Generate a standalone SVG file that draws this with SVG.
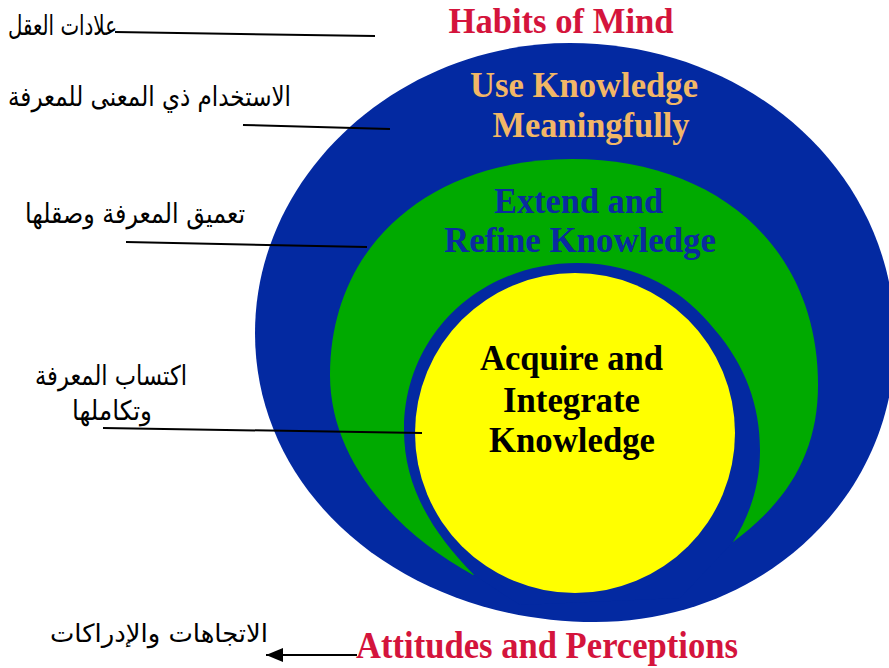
<svg xmlns="http://www.w3.org/2000/svg" width="889" height="668" viewBox="0 0 889 668">
<style>
.en{font-family:"Liberation Serif","Times New Roman",serif;font-weight:bold;font-size:35px;text-anchor:middle}
.ar{font-family:"DejaVu Sans","Noto Sans",sans-serif;font-size:27px;fill:#000;text-anchor:end}
.ln{stroke:#000;stroke-width:2;fill:none}
.blue{fill:#0329A1}
</style>
<defs>
<marker id="ah" viewBox="-17 -7 17 14" refX="0" refY="0" markerWidth="17" markerHeight="14" markerUnits="userSpaceOnUse" orient="auto">
<polygon points="0,0 -17,-7 -17,7" fill="#000"/>
</marker>
<clipPath id="outerClip"><path d="M 255,333 C 255,173 400,43 570,43 C 750,43 895,173 895,340 C 895,500 760,622 595,622 C 410,622 255,500 255,333 Z"/></clipPath>
</defs>
<rect width="889" height="668" fill="#fff"/>
<g id="habits-of-mind">
<path class="blue" d="M 255,333 C 255,173 400,43 570,43 C 750,43 895,173 895,340 C 895,500 760,622 595,622 C 410,622 255,500 255,333 Z"/>
<text class="en" x="561" y="33" fill="#D4143C" textLength="225" lengthAdjust="spacingAndGlyphs">Habits of Mind</text>
<text class="en" x="584" y="97" fill="#F2B766" textLength="228" lengthAdjust="spacingAndGlyphs">Use Knowledge</text>
<text class="en" x="591" y="137" fill="#F2B766" textLength="197" lengthAdjust="spacingAndGlyphs">Meaningfully</text>
</g>
<g id="extend-refine">
<path fill="#00AA00" d="M 473,575 C 395,532 330,460 330,375 C 330,245 430,159 572,159 C 714,159 818,245 818,385 C 818,450 790,500 733,542 Z"/>
<text class="en" x="578.5" y="213" fill="#0B2BA0" textLength="169" lengthAdjust="spacingAndGlyphs">Extend and</text>
<text class="en" x="580" y="252" fill="#0B2BA0" textLength="272" lengthAdjust="spacingAndGlyphs">Refine Knowledge</text>
</g>
<g id="inner-ring">
<path class="blue" clip-path="url(#outerClip)" d="M 474,575 C 430,530 404,485 404,430 C 404,335 480,263 577,263 C 640,263 685,292 715,330 C 745,365 760,405 760,450 C 760,485 750,515 733,542 L 680,598 L 520,605 Z"/>
</g>
<g id="acquire-integrate">
<circle cx="575" cy="433" r="160" fill="#FFFF00"/>
<text class="en" x="571.5" y="370" fill="#000" textLength="183" lengthAdjust="spacingAndGlyphs">Acquire and</text>
<text class="en" x="571.5" y="412" fill="#000" textLength="137" lengthAdjust="spacingAndGlyphs">Integrate</text>
<text class="en" x="572" y="452" fill="#000" textLength="166" lengthAdjust="spacingAndGlyphs">Knowledge</text>
</g>
<g id="attitudes">
<text class="en" x="547" y="658" fill="#D4143C" textLength="382" lengthAdjust="spacingAndGlyphs" style="font-size:37px">Attitudes and Perceptions</text>
</g>
<g id="arabic-labels">
<text class="ar" x="117" y="35" textLength="109" lengthAdjust="spacingAndGlyphs">علادات العقل</text>
<text class="ar" x="291" y="106" textLength="283" lengthAdjust="spacingAndGlyphs">الاستخدام ذي المعنى للمعرفة</text>
<text class="ar" x="245" y="223" textLength="220" lengthAdjust="spacingAndGlyphs">تعميق المعرفة وصقلها</text>
<text class="ar" x="187" y="385" textLength="152" lengthAdjust="spacingAndGlyphs">اكتساب المعرفة</text>
<text class="ar" x="152" y="420" textLength="80" lengthAdjust="spacingAndGlyphs">وتكاملها</text>
<text class="ar" x="268" y="642" textLength="218" lengthAdjust="spacingAndGlyphs" style="font-size:25px">الاتجاهات والإدراكات</text>
</g>
<g id="connectors">
<line class="ln" x1="115" y1="32" x2="375" y2="36"/>
<line class="ln" x1="243" y1="125" x2="390" y2="129"/>
<line class="ln" x1="126" y1="242" x2="367" y2="247"/>
<line class="ln" x1="103" y1="428" x2="422" y2="433"/>
<line class="ln" x1="357" y1="655" x2="266" y2="655" stroke-width="1.6" marker-end="url(#ah)"/>
</g>
</svg>
